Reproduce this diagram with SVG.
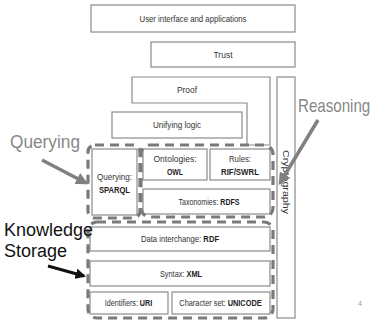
<svg xmlns="http://www.w3.org/2000/svg" width="370" height="326" viewBox="0 0 370 326">
<style>
.box{fill:#fff;stroke:#8a8a8a;stroke-width:1.2}
.t{font-family:"Liberation Sans",Arial,sans-serif;font-size:9px;fill:#333;text-anchor:middle}
.b{font-weight:bold;fill:#222}
.dash{fill:none;stroke:#7a7a7a;stroke-width:3.2;stroke-dasharray:9 6}
.big{font-family:"Liberation Sans",Arial,sans-serif;font-size:18px}
</style>
<defs>
<marker id="ag" viewBox="0 0 10 10" refX="8" refY="5" markerWidth="3.5" markerHeight="3.5" orient="auto"><path d="M0,0 L10,5 L0,10 Z" fill="#808080"/></marker>
<marker id="ak" viewBox="0 0 10 10" refX="8" refY="5" markerWidth="3.5" markerHeight="3.5" orient="auto"><path d="M0,0 L10,5 L0,10 Z" fill="#111"/></marker>
</defs>
<rect width="370" height="326" fill="#fff"/>
<g id="ui"><rect class="box" x="91" y="5" width="204" height="27"/><text class="t" x="193" y="21.5" textLength="107" lengthAdjust="spacingAndGlyphs">User interface and applications</text></g>
<g id="trust"><rect class="box" x="151" y="42" width="144" height="25"/><text class="t" x="223" y="58" textLength="19" lengthAdjust="spacingAndGlyphs">Trust</text></g>
<g id="proof"><path class="box" d="M132,77 H270 V145 H247 V103 H132 Z"/><text class="t" x="187" y="93" textLength="20" lengthAdjust="spacingAndGlyphs">Proof</text></g>
<g id="crypto"><rect class="box" x="277" y="77" width="18" height="241"/><text class="t" transform="translate(283,182) rotate(90)" textLength="64" lengthAdjust="spacingAndGlyphs">Cryptography</text></g>
<g id="logic"><rect class="box" x="112" y="112" width="130" height="26"/><text class="t" x="177" y="128" textLength="48" lengthAdjust="spacingAndGlyphs">Unifying logic</text></g>
<g id="sparql"><rect class="box" x="92" y="149" width="45" height="66"/><text class="t" x="114.5" y="180" textLength="35" lengthAdjust="spacingAndGlyphs">Querying:</text><text class="t b" x="114.5" y="193" textLength="31" lengthAdjust="spacingAndGlyphs">SPARQL</text></g>
<g id="owl"><rect class="box" x="143" y="149" width="64" height="31"/><text class="t" x="175" y="162" textLength="43" lengthAdjust="spacingAndGlyphs">Ontologies:</text><text class="t b" x="175" y="175" textLength="16" lengthAdjust="spacingAndGlyphs">OWL</text></g>
<g id="rif"><rect class="box" x="210" y="149" width="60" height="31"/><text class="t" x="240" y="162" textLength="22" lengthAdjust="spacingAndGlyphs">Rules:</text><text class="t b" x="240" y="175" textLength="38" lengthAdjust="spacingAndGlyphs">RIF/SWRL</text></g>
<g id="rdfs"><rect class="box" x="143" y="189" width="127" height="25"/><text class="t" transform="translate(209,205) scale(0.79,1)">Taxonomies: <tspan class="b">RDFS</tspan></text></g>
<g id="rdf"><rect class="box" x="90" y="227" width="180" height="24"/><text class="t" transform="translate(180,242) scale(0.85,1)">Data interchange: <tspan class="b">RDF</tspan></text></g>
<g id="xml"><rect class="box" x="90" y="261" width="180" height="25"/><text class="t" transform="translate(181,277) scale(0.82,1)">Syntax: <tspan class="b">XML</tspan></text></g>
<g id="uri"><rect class="box" x="90" y="292" width="78" height="22"/><text class="t" transform="translate(128.5,306) scale(0.8,1)">Identifiers: <tspan class="b">URI</tspan></text></g>
<g id="unicode"><rect class="box" x="172" y="292" width="98" height="22"/><text class="t" transform="translate(220.5,306) scale(0.82,1)">Character set: <tspan class="b">UNICODE</tspan></text></g>
<g id="groups">
<rect class="dash" x="88" y="145" width="52" height="73" rx="7"/>
<rect class="dash" x="141" y="145" width="132" height="72" rx="9"/>
<rect class="dash" x="88" y="222" width="185" height="96" rx="9"/>
</g>
<g id="labels">
<text class="big" x="10" y="148" fill="#888" textLength="70" lengthAdjust="spacingAndGlyphs">Querying</text>
<text class="big" transform="translate(298,112) scale(0.84,1)" fill="#888">Reasoning</text>
<text class="big" x="4" y="236" fill="#111">Knowledge</text>
<text class="big" x="4" y="257" fill="#111">Storage</text>
<text x="358" y="306" font-family="Liberation Sans,Arial,sans-serif" font-size="7" fill="#999">4</text>
</g>
<g id="connectors">
<line x1="42" y1="160" x2="86" y2="183" stroke="#808080" stroke-width="3.5" marker-end="url(#ag)"/>
<line x1="318" y1="120" x2="280" y2="183" stroke="#808080" stroke-width="3.5" marker-end="url(#ag)"/>
<line x1="48" y1="266" x2="84" y2="276" stroke="#111" stroke-width="3" marker-end="url(#ak)"/>
</g>
</svg>
